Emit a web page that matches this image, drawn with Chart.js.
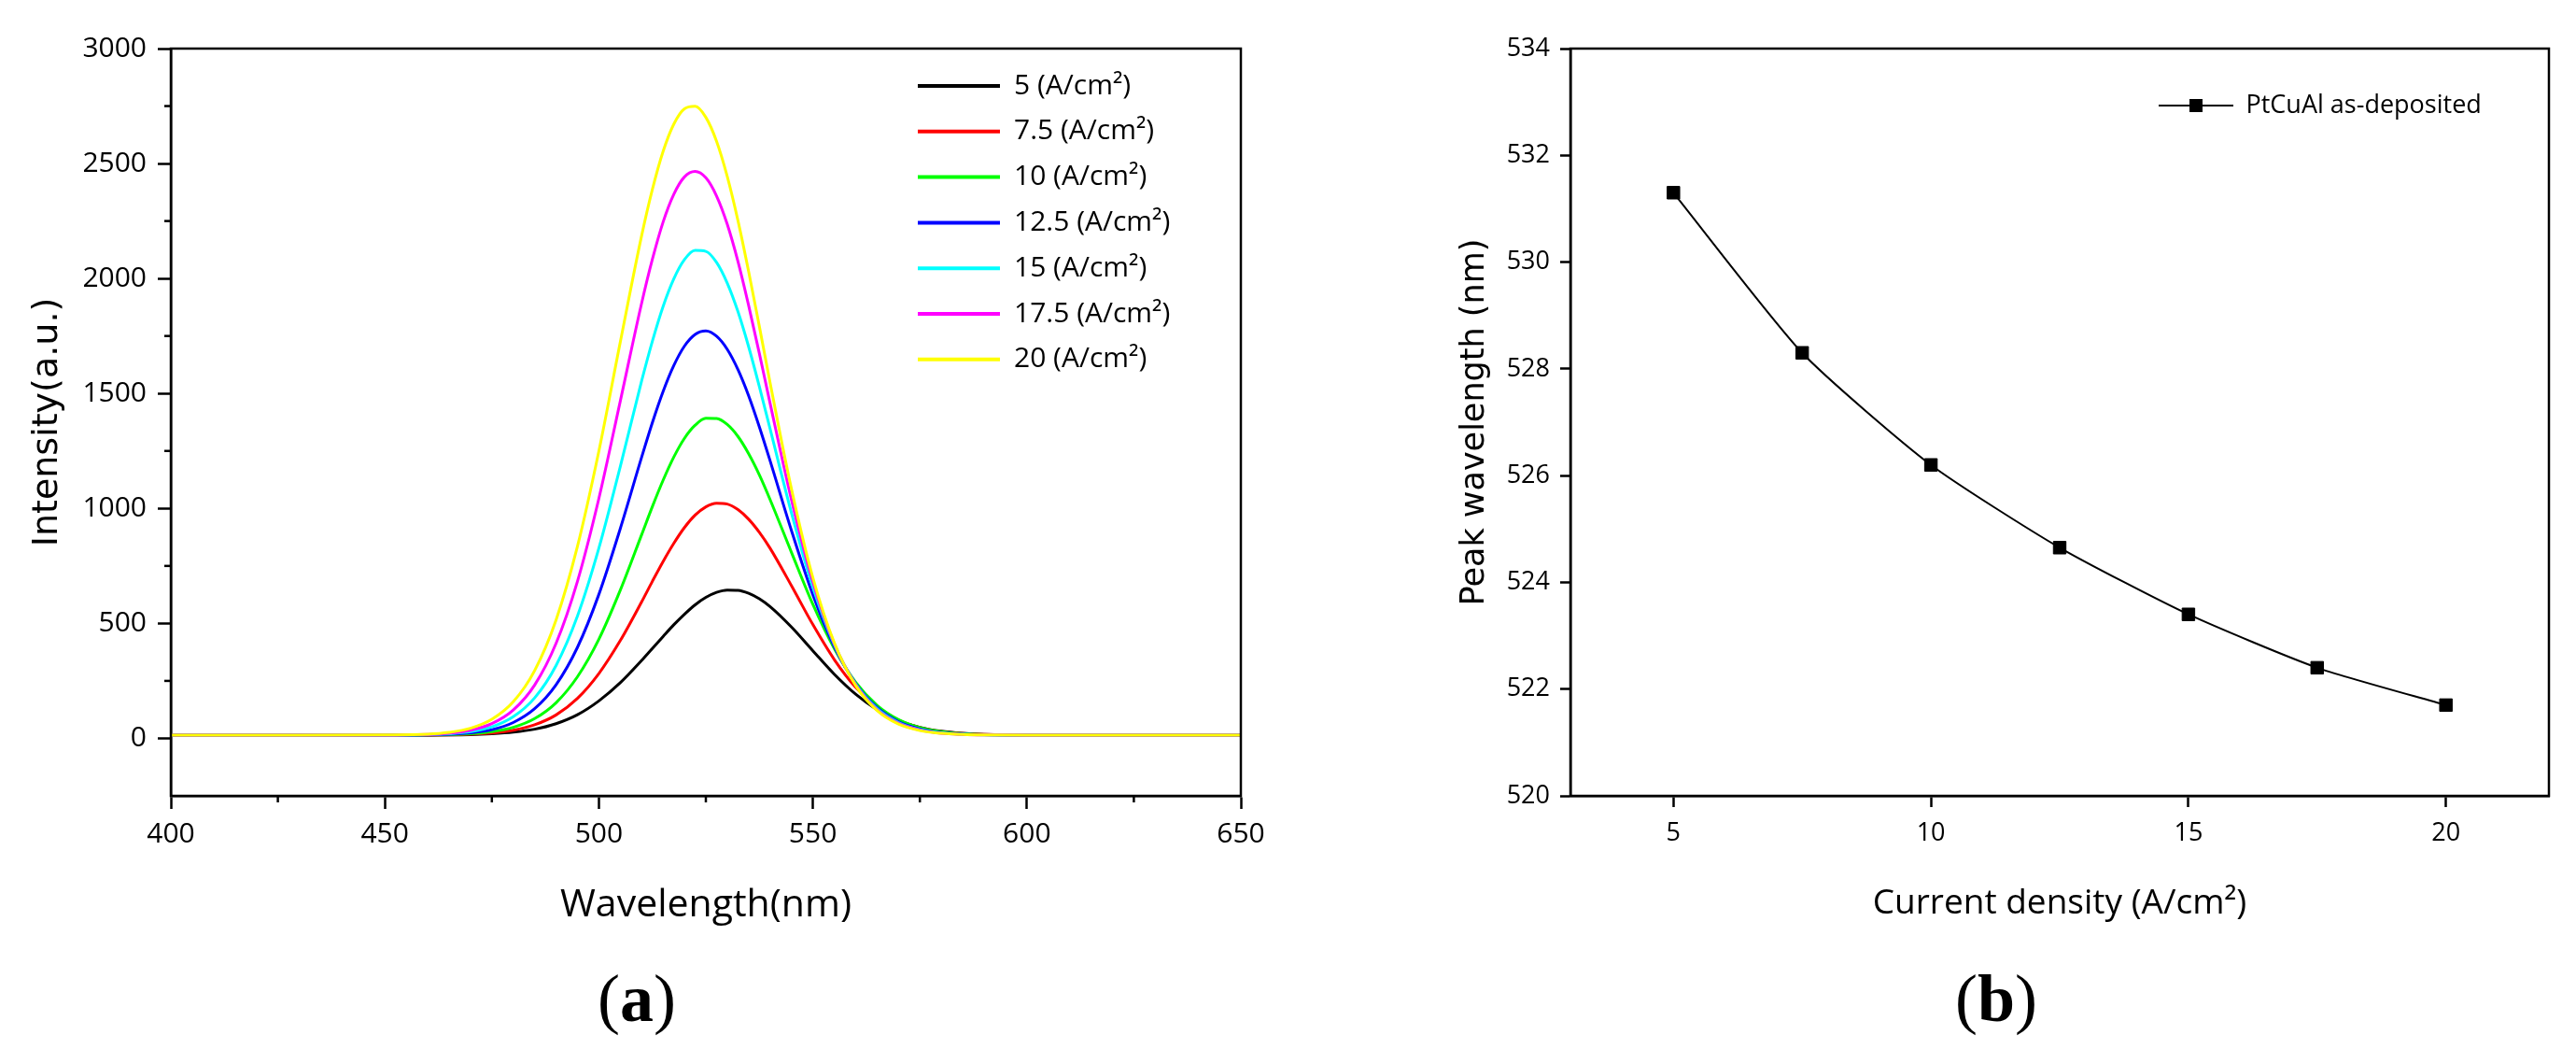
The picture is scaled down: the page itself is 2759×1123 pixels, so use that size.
<!DOCTYPE html>
<html>
<head>
<meta charset="utf-8">
<script src="https://cdn.jsdelivr.net/npm/chart.js@4.4.1/dist/chart.umd.min.js"></script>
<style>
  html, body { margin: 0; padding: 0; background: #fff; }
  body { width: 2759px; height: 1123px; position: relative; overflow: hidden; }
  .panel { position: absolute; top: 0; height: 1123px; }
  #wrapA { left: 0; width: 1380px; }
  #wrapB { left: 1380px; width: 1379px; }
  .tag { position: absolute; top: 1024px; font-family: "Liberation Serif", serif; font-size: 72px; line-height: 90px; transform: translateX(-50%); color: #000; }
</style>
</head>
<body>
<div class="panel" id="wrapA"><canvas id="spectra"></canvas></div>
<div class="panel" id="wrapB"><canvas id="peaks"></canvas></div>
<div class="tag" style="left:682px">(<b>a</b>)</div>
<div class="tag" style="left:2138px">(<b>b</b>)</div>
<script>
// (a) emission spectra
const wavelengths = [400, 430, 450,
  460, 465, 470, 475, 480, 485, 490, 495, 500, 505, 510,
  512.5, 515, 517.5, 520, 522.5, 525, 527.5, 530, 532.5, 535, 537.5,
  540, 545, 550, 555, 560, 565, 570, 575, 580, 585, 590,
  600, 625, 650];
const intensity5 = [14, 14, 14,
  14, 15, 16, 20, 27, 40, 64, 103, 163, 242, 339,
  391, 443, 494, 540, 581, 613, 635, 645, 644, 631, 607,
  573, 484, 381, 279, 192, 125, 78, 48, 31, 22, 17,
  14, 14, 14];
const intensity7_5 = [14, 14, 14,
  14, 15, 18, 23, 35, 59, 102, 174, 282, 425, 594,
  683, 769, 848, 917, 971, 1007, 1023, 1019, 995, 953, 896,
  827, 664, 495, 343, 222, 136, 80, 47, 29, 21, 17,
  14, 14, 14];
const intensity10 = [14, 14, 14,
  15, 16, 20, 29, 48, 86, 155, 268, 431, 644, 886,
  1008, 1122, 1223, 1305, 1362, 1392, 1391, 1365, 1313, 1238, 1146,
  1039, 809, 583, 391, 244, 144, 82, 47, 29, 20, 16,
  14, 14, 14];
const intensity12_5 = [14, 14, 14,
  15, 18, 24, 38, 69, 129, 233, 396, 626, 912, 1223,
  1373, 1508, 1621, 1706, 1757, 1772, 1749, 1692, 1604, 1490, 1355,
  1208, 904, 625, 400, 238, 134, 73, 41, 25, 18, 16,
  14, 14, 14];
const intensity15 = [14, 14, 14,
  16, 20, 29, 50, 94, 176, 317, 532, 827, 1182, 1555,
  1727, 1878, 1998, 2082, 2122, 2118, 2070, 1980, 1856, 1703, 1530,
  1347, 981, 658, 409, 236, 129, 69, 38, 24, 18, 15,
  14, 14, 14];
const intensity17_5 = [14, 14, 14,
  17, 22, 35, 64, 123, 232, 413, 683, 1043, 1466, 1893,
  2083, 2245, 2366, 2442, 2466, 2438, 2359, 2236, 2074, 1882, 1674,
  1458, 1038, 681, 412, 233, 124, 65, 36, 22, 17, 15,
  14, 14, 14];
const intensity20 = [14, 14, 15,
  18, 26, 44, 83, 159, 295, 515, 835, 1249, 1723, 2187,
  2387, 2552, 2671, 2738, 2749, 2701, 2597, 2444, 2252, 2030, 1792,
  1548, 1085, 699, 416, 230, 121, 62, 34, 22, 17, 15,
  14, 14, 14];
const seriesLabels = ['5 (A/cm²)', '7.5 (A/cm²)', '10 (A/cm²)', '12.5 (A/cm²)', '15 (A/cm²)', '17.5 (A/cm²)', '20 (A/cm²)'];
const seriesColors = ['#000000', '#ff0000', '#00ff00', '#0000ff', '#00ffff', '#ff00ff', '#ffff00'];
const intensityTicks = [0, 500, 1000, 1500, 2000, 2500, 3000];
const intensityMinor = [250, 750, 1250, 1750, 2250, 2750];
const wavelengthTicks = [400, 450, 500, 550, 600, 650];
const wavelengthMinor = [425, 475, 525, 575, 625];

// (b) peak wavelength vs current density
const densities = [5, 7.5, 10, 12.5, 15, 17.5, 20];
const peakWavelengths = [531.3, 528.3, 526.2, 524.65, 523.4, 522.4, 521.7];
const densityTicks = [5, 10, 15, 20];
const peakTicks = [520, 522, 524, 526, 528, 530, 532, 534];

const seriesValues = [intensity5, intensity7_5, intensity10, intensity12_5, intensity15, intensity17_5, intensity20];

Chart.defaults.font.family = "'Open Sans', sans-serif";
Chart.defaults.color = '#000';

// put the legend box where it sits in the picture
const legendSpot = {
  id: 'legendSpot',
  afterLayout(chart, args, opts) {
    const lg = chart.legend;
    lg.left = opts.left;
    lg.top = opts.top;
    lg.right = opts.left + lg.width + 60;
    lg.bottom = opts.top + 500;
  }
};

// closed frame + half-length minor ticks
const frame = {
  id: 'frame',
  afterDraw(chart, args, opts) {
    const {ctx, chartArea: a, scales} = chart;
    ctx.save();
    ctx.strokeStyle = '#000';
    ctx.lineWidth = opts.width;
    ctx.strokeRect(a.left, a.top, a.right - a.left, a.bottom - a.top);
    (opts.xMinor || []).forEach(v => {
      const px = scales.x.getPixelForValue(v);
      ctx.beginPath(); ctx.moveTo(px, a.bottom); ctx.lineTo(px, a.bottom + opts.minorLength); ctx.stroke();
    });
    (opts.yMinor || []).forEach(v => {
      const py = scales.y.getPixelForValue(v);
      ctx.beginPath(); ctx.moveTo(a.left, py); ctx.lineTo(a.left - opts.minorLength, py); ctx.stroke();
    });
    ctx.restore();
  }
};

new Chart(document.getElementById('spectra'), {
  type: 'line',
  data: {
    datasets: seriesValues.map((vals, i) => ({
      label: seriesLabels[i],
      data: wavelengths.map((w, k) => ({ x: w, y: vals[k] })),
      borderColor: seriesColors[i],
      backgroundColor: seriesColors[i],
      borderWidth: 3,
      pointRadius: 0,
      cubicInterpolationMode: 'monotone',
      order: seriesValues.length - i
    }))
  },
  options: {
    responsive: true,
    maintainAspectRatio: false,
    animation: false,
    layout: { padding: { left: 0, top: 52, right: 51, bottom: 129 } },
    plugins: {
      tooltip: { enabled: false },
      legend: {
        position: 'chartArea',
        align: 'start',
        labels: {
          font: { size: 30 },
          color: '#000',
          boxWidth: 88,
          boxHeight: 4,
          padding: 18.8,
          sort: (a, b) => a.datasetIndex - b.datasetIndex,
          generateLabels: chart => Chart.defaults.plugins.legend.labels.generateLabels(chart)
            .map(it => Object.assign(it, { lineWidth: 0 }))
        }
      },
      legendSpot: { left: 964.2, top: 58.2 },
      frame: { width: 2.5, minorLength: 7, xMinor: wavelengthMinor, yMinor: intensityMinor }
    },
    scales: {
      x: {
        type: 'linear',
        min: 400,
        max: 650,
        afterBuildTicks: s => { s.ticks = wavelengthTicks.map(v => ({ value: v })); },
        afterFit: s => { s.height = 142; },
        ticks: { font: { size: 30 }, padding: 9, autoSkip: false, maxRotation: 0, callback: v => String(v) },
        grid: { drawOnChartArea: false, tickLength: 14, tickWidth: 2.5, tickColor: '#000' },
        border: { color: '#000', width: 2.5 },
        title: { display: true, text: 'Wavelength(nm)', font: { size: 41, lineHeight: 1.2 }, padding: { top: 0, bottom: 0 } }
      },
      y: {
        min: -250,
        max: 3000,
        afterBuildTicks: s => { s.ticks = intensityTicks.map(v => ({ value: v })); },
        afterFit: s => { s.width = 183; },
        ticks: { font: { size: 30 }, padding: 12, autoSkip: false, callback: v => String(v) },
        grid: { drawOnChartArea: false, tickLength: 14, tickWidth: 2.5, tickColor: '#000' },
        border: { color: '#000', width: 2.5 },
        title: { display: true, text: 'Intensity(a.u.)', font: { family: "'DejaVu Sans', sans-serif", size: 38, lineHeight: 1.2 }, padding: { top: 28, bottom: 0 } }
      }
    }
  },
  plugins: [legendSpot, frame]
});

// legend symbol for (b): line with a square marker
const legendMark = document.createElement('canvas');
legendMark.width = 80;
legendMark.height = 18;
{
  const g = legendMark.getContext('2d');
  g.fillStyle = '#000';
  g.fillRect(0, 8, 80, 2);
  g.fillRect(33, 2, 14, 14);
}

new Chart(document.getElementById('peaks'), {
  type: 'line',
  data: {
    datasets: [{
      label: 'PtCuAl as-deposited',
      data: densities.map((d, i) => ({ x: d, y: peakWavelengths[i] })),
      borderColor: '#000',
      backgroundColor: '#000',
      borderWidth: 2,
      pointStyle: 'rect',
      pointRadius: 9.5,
      pointBorderWidth: 1,
      pointBackgroundColor: '#000',
      tension: 0.2
    }]
  },
  options: {
    responsive: true,
    maintainAspectRatio: false,
    animation: false,
    layout: { padding: { left: 0, top: 52, right: 29, bottom: 133 } },
    plugins: {
      tooltip: { enabled: false },
      legend: {
        position: 'chartArea',
        align: 'start',
        labels: {
          font: { size: 27 },
          color: '#000',
          usePointStyle: true,
          pointStyle: legendMark,
          pointStyleWidth: 80,
          padding: 10
        }
      },
      legendSpot: { left: 922, top: 89.5 },
      frame: { width: 2.5, minorLength: 0 }
    },
    scales: {
      x: {
        type: 'linear',
        min: 3,
        max: 22,
        afterBuildTicks: s => { s.ticks = densityTicks.map(v => ({ value: v })); },
        afterFit: s => { s.height = 138; },
        ticks: { font: { size: 27 }, padding: 12, autoSkip: false, maxRotation: 0, callback: v => String(v) },
        grid: { drawOnChartArea: false, tickLength: 12, tickWidth: 2.5, tickColor: '#000' },
        border: { color: '#000', width: 2.5 },
        title: { display: true, text: 'Current density (A/cm²)', font: { size: 37, lineHeight: 1.2 }, padding: { top: 0, bottom: 0 } }
      },
      y: {
        min: 520,
        max: 534,
        afterBuildTicks: s => { s.ticks = peakTicks.map(v => ({ value: v })); },
        afterFit: s => { s.width = 302; },
        ticks: { font: { size: 27 }, padding: 11, autoSkip: false, callback: v => String(v) },
        grid: { drawOnChartArea: false, tickLength: 11, tickWidth: 2.5, tickColor: '#000' },
        border: { color: '#000', width: 2.5 },
        title: { display: true, text: 'Peak wavelength (nm)', font: { family: "'DejaVu Sans', sans-serif", size: 35, lineHeight: 1.2 }, padding: { top: 179, bottom: 0 } }
      }
    }
  },
  plugins: [legendSpot, frame]
});
</script>
</body>
</html>
